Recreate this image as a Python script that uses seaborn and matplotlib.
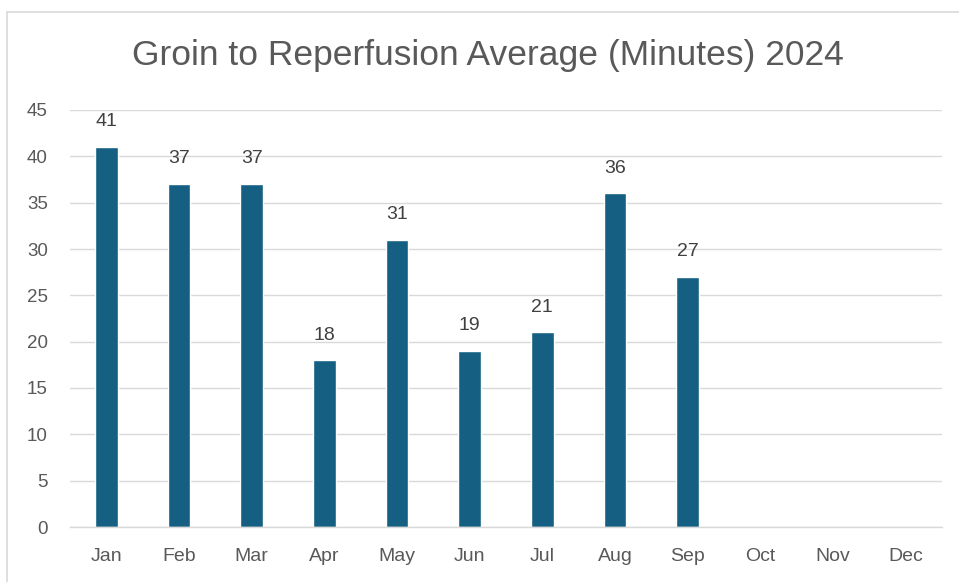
import matplotlib
matplotlib.use("Agg")
import matplotlib.pyplot as plt
import seaborn as sns
import pandas as pd
from matplotlib.lines import Line2D

# chart data
months = ["Jan", "Feb", "Mar", "Apr", "May", "Jun", "Jul", "Aug", "Sep", "Oct", "Nov", "Dec"]
minutes = [41, 37, 37, 18, 31, 19, 21, 36, 27, None, None, None]
y_ticks = [0, 5, 10, 15, 20, 25, 30, 35, 40, 45]
title = "Groin to Reperfusion Average (Minutes) 2024"

df = pd.DataFrame({"month": months, "minutes": minutes})

sns.set_theme(style="white")
plt.rcParams["font.family"] = ["Liberation Sans", "DejaVu Sans"]

fig = plt.figure(figsize=(9.59, 5.82), dpi=100)
ax = fig.add_axes([70 / 959, 1 - 527 / 582, 872 / 959, 417 / 582])

sns.barplot(data=df, x="month", y="minutes", order=months, color="#156082",
            saturation=1, width=0.31, ax=ax)

# value labels
for i, v in enumerate(minutes):
    if v is not None:
        ax.annotate(str(v), (i, v), xytext=(0, 12), textcoords="offset points",
                    ha="center", va="bottom", fontsize=14, color="#404040")

ax.set_ylim(0, 45)
ax.set_yticks(y_ticks)
ax.set_xlim(-0.5, 11.5)
ax.yaxis.grid(True, color="#d9d9d9", linewidth=1)
ax.set_axisbelow(True)
for side in ["top", "right", "left"]:
    ax.spines[side].set_visible(False)
ax.spines["bottom"].set_color("#d9d9d9")
ax.spines["bottom"].set_linewidth(1)
ax.tick_params(axis="y", length=0, pad=16, labelsize=13.5, labelcolor="#595959")
ax.tick_params(axis="x", length=0, pad=15, labelsize=14, labelcolor="#595959")
ax.set_xlabel("")
ax.set_ylabel("")

fig.text(488 / 959, 1 - 55 / 582, title, ha="center", va="center",
         fontsize=25.5, color="#595959")

# light chart border (top and left edges visible)
fig.add_artist(Line2D([7 / 959, 1], [1 - 12 / 582] * 2, color="#d9d9d9", lw=1.2))
fig.add_artist(Line2D([7 / 959] * 2, [0, 1 - 12 / 582], color="#d9d9d9", lw=1.2))

fig.savefig("out.png", dpi=100, facecolor="white")
